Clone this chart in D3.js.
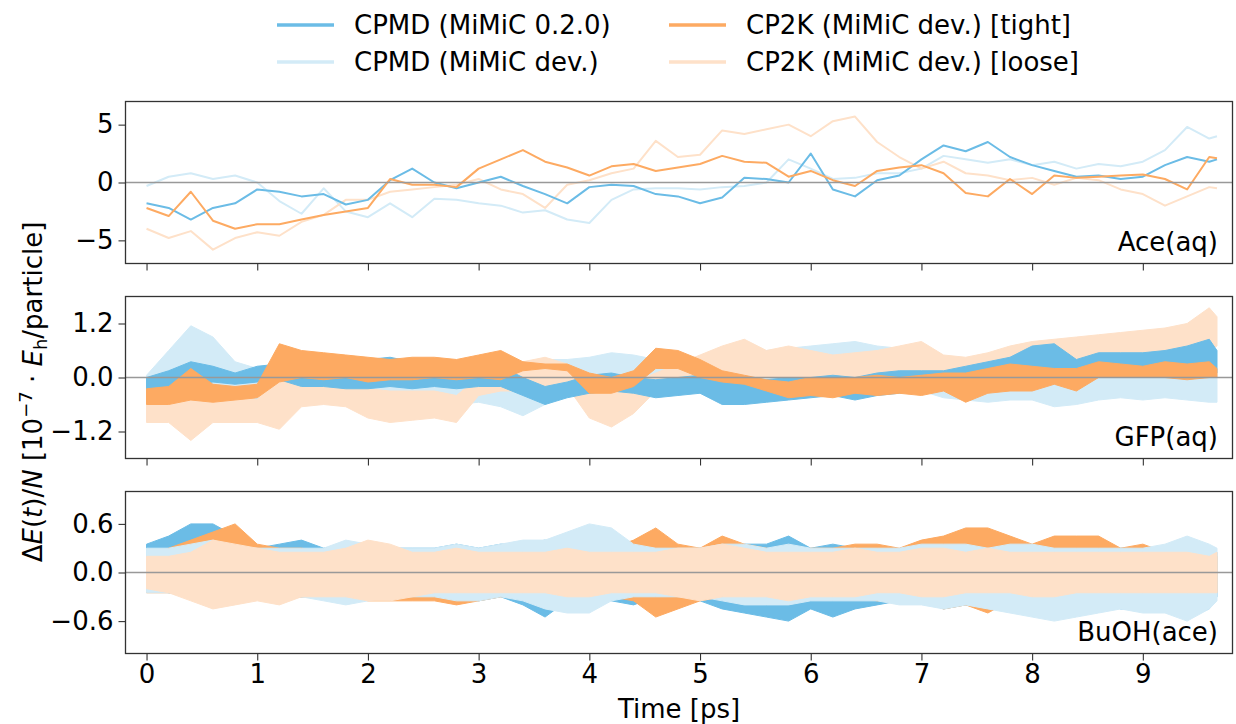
<!DOCTYPE html>
<html>
<head>
<meta charset="utf-8">
<script src="https://cdn.jsdelivr.net/npm/d3@7"></script>
<style>
  body { margin: 0; background: #fff; }
  svg { display: block; font-family: "DejaVu Sans", sans-serif; }
</style>
</head>
<body>
<svg></svg>
<script>
// time grid (ps) the values were read at
const times = [0,0.2,0.4,0.6,0.8,1.0,1.2,1.4,1.6,1.8,2.0,2.2,2.4,2.6,2.8,3.0,
  3.2,3.4,3.6,3.8,4.0,4.2,4.4,4.6,4.8,5.0,5.2,5.4,5.6,5.8,6.0,6.2,6.4,6.6,
  6.8,7.0,7.2,7.4,7.6,7.8,8.0,8.2,8.4,8.6,8.8,9.0,9.2,9.4,9.6,9.67]

const seriesNames = ['CPMD (MiMiC 0.2.0)', 'CPMD (MiMiC dev.)', 'CP2K (MiMiC dev.) [tight]', 'CP2K (MiMiC dev.) [loose]']
const panelNames = ['Ace(aq)', 'GFP(aq)', 'BuOH(ace)']
const xTicks = [0,1,2,3,4,5,6,7,8,9]
const yTicks = [[-5,0,5], [-1.2,0,1.2], [-0.6,0,0.6]]
const yTickLabels = [['\u22125','0','5'], ['\u22121.2','0.0','1.2'], ['\u22120.6','0.0','0.6']]
const yLimits = [[-7,7], [-1.8,1.8], [-1.0,1.0]]

// Ace(aq): single traces
const aceCpmd020 = [-1.8,-2.2,-3.2,-2.2,-1.8,-0.6,-0.8,-1.2,-1.0,-1.9,-1.5,0.2,1.2,0.0,-0.5,0.0,
  0.5,-0.3,-1.0,-1.8,-0.4,-0.2,-0.3,-1.0,-1.2,-1.8,-1.3,0.4,0.3,0.0,2.5,-0.6,-1.2,0.2,
  0.6,2.0,3.2,2.7,3.5,2.2,1.5,1.0,0.5,0.6,0.3,0.5,1.5,2.2,1.8,2.0]
const aceCpmdDev = [-0.3,0.5,0.8,0.3,0.6,0.0,-1.6,-2.7,-0.5,-2.5,-3.0,-1.8,-3.0,-1.4,-1.5,-1.8,
  -2.0,-2.6,-2.4,-3.2,-3.5,-1.5,-0.6,-0.5,-0.5,-0.6,-0.4,-0.3,0.0,2.0,1.2,0.3,0.4,0.8,
  0.8,1.2,2.3,2.0,1.7,2.0,1.5,1.8,1.2,1.6,1.4,1.8,2.8,4.8,3.8,4.0]
const aceCp2kTight = [-2.2,-2.9,-0.8,-3.3,-4.0,-3.6,-3.6,-3.2,-2.8,-2.5,-2.2,0.3,-0.2,-0.2,-0.4,1.2,
  2.0,2.8,1.8,1.3,0.6,1.4,1.6,1.0,1.3,1.6,2.3,1.8,1.7,0.5,1.0,0.2,-0.3,1.0,
  1.3,1.5,0.8,-0.9,-1.2,0.3,-1.0,0.6,0.4,0.5,0.6,0.7,0.3,-0.6,2.2,2.1]
const aceCp2kLoose = [-4.0,-4.8,-4.2,-5.8,-4.8,-4.3,-4.6,-3.4,-2.8,-1.5,-1.5,-0.8,-0.6,-0.4,-0.2,0.3,
  -0.6,-1.0,-2.2,-0.2,0.2,0.8,1.2,3.6,2.2,2.4,4.5,4.2,4.6,5.0,4.0,5.3,5.7,3.5,
  2.2,1.2,1.8,0.8,0.6,0.2,0.4,-0.2,0.4,0.2,-0.6,-1.0,-2.0,-1.2,-0.4,-0.5]

// GFP(aq): lower / upper envelope of the noisy traces
const gfpCpmd020Lo = [-0.35,-0.3,-0.2,-0.1,-0.15,-0.1,-0.05,-0.2,-0.2,-0.25,-0.25,-0.2,-0.25,-0.2,-0.25,-0.2,
  -0.2,-0.4,-0.6,-0.45,-0.35,-0.3,-0.35,-0.45,-0.4,-0.35,-0.6,-0.6,-0.55,-0.5,-0.45,-0.4,-0.5,-0.4,
  -0.35,-0.3,-0.2,-0.15,-0.1,0.0,0.05,0.1,0.0,0.15,0.2,0.2,0.15,0.2,0.05,0.1]
const gfpCpmd020Hi = [0.0,0.15,0.35,0.25,0.1,0.25,0.3,0.3,0.25,0.3,0.4,0.45,0.35,0.3,0.3,0.3,
  0.25,0.0,-0.2,-0.1,0.05,0.1,0.0,-0.05,0.0,0.05,0.05,0.0,-0.05,0.0,0.0,0.05,0.0,0.1,
  0.15,0.15,0.15,0.25,0.35,0.45,0.7,0.75,0.4,0.55,0.55,0.55,0.6,0.7,0.85,0.6]
const gfpCpmdDevLo = [-0.5,-0.55,-0.6,-0.6,-0.55,-0.6,-0.55,-0.5,-0.45,-0.55,-0.5,-0.45,-0.6,-0.55,-0.6,-0.55,
  -0.65,-0.85,-0.6,-0.4,-0.3,-0.25,-0.2,-0.2,-0.2,-0.2,-0.3,-0.35,-0.3,-0.3,-0.3,-0.3,-0.3,-0.3,
  -0.3,-0.3,-0.45,-0.5,-0.55,-0.5,-0.5,-0.65,-0.6,-0.5,-0.45,-0.5,-0.45,-0.5,-0.55,-0.55]
const gfpCpmdDevHi = [0.05,0.6,1.15,0.9,0.35,0.2,0.3,0.1,0.3,0.15,0.1,0.0,0.0,-0.05,-0.05,0.0,
  0.1,0.35,0.4,0.4,0.45,0.55,0.5,0.4,0.35,0.4,0.5,0.55,0.6,0.65,0.7,0.75,0.8,0.7,
  0.65,0.7,0.2,0.2,0.15,0.2,0.1,0.1,0.1,0.1,0.1,0.1,0.1,0.1,0.2,0.1]
const gfpCp2kTightLo = [-0.6,-0.6,-0.5,-0.55,-0.5,-0.45,-0.1,0.0,-0.05,0.0,-0.1,-0.05,-0.05,0.0,-0.05,0.0,
  -0.05,0.15,0.2,0.15,-0.35,-0.35,-0.2,0.2,0.2,0.0,-0.1,-0.15,-0.3,-0.45,-0.4,-0.45,-0.35,-0.4,
  -0.35,-0.4,-0.3,-0.55,-0.35,-0.3,-0.3,-0.15,-0.3,0.0,0.0,0.0,0.0,-0.05,0.0,0.0]
const gfpCp2kTightHi = [-0.25,-0.2,0.2,-0.15,-0.2,-0.15,0.75,0.6,0.55,0.5,0.45,0.4,0.45,0.45,0.4,0.5,
  0.6,0.35,0.3,0.3,0.1,0.0,0.15,0.65,0.6,0.4,0.15,0.05,-0.05,-0.1,0.0,0.0,0.0,0.05,
  0.0,0.05,0.1,0.1,0.2,0.3,0.25,0.2,0.2,0.35,0.3,0.25,0.35,0.3,0.35,0.2]
const gfpCp2kLooseLo = [-1.0,-1.0,-1.4,-1.0,-1.0,-1.0,-1.15,-0.65,-0.6,-0.65,-0.9,-1.0,-0.95,-0.9,-1.0,-0.4,
  -0.3,-0.3,-0.2,-0.2,-0.9,-1.1,-0.8,-0.3,-0.2,-0.1,0.0,0.05,0.0,0.0,0.0,-0.05,0.0,0.0,
  0.0,0.05,0.0,0.0,0.05,0.1,0.15,0.2,0.2,0.3,0.3,0.35,0.4,0.5,0.6,0.7]
const gfpCp2kLooseHi = [-0.2,-0.3,-0.4,-0.4,-0.4,-0.5,0.2,0.25,0.3,0.2,-0.25,-0.3,-0.3,-0.3,-0.4,0.0,
  0.1,0.35,0.45,0.3,-0.2,-0.2,-0.1,0.1,0.3,0.5,0.7,0.85,0.6,0.7,0.6,0.5,0.55,0.6,
  0.7,0.8,0.5,0.45,0.55,0.7,0.8,0.85,0.9,0.95,1.0,1.05,1.1,1.2,1.55,1.35]

// BuOH(ace): lower / upper envelope
const buohCpmd020Lo = [-0.2,-0.25,-0.3,-0.3,-0.3,-0.3,-0.35,-0.3,-0.3,-0.3,-0.3,-0.3,-0.3,-0.3,-0.3,-0.35,
  -0.3,-0.4,-0.55,-0.35,-0.3,-0.35,-0.4,-0.3,-0.35,-0.35,-0.45,-0.5,-0.55,-0.6,-0.45,-0.55,-0.45,-0.4,
  -0.35,-0.35,-0.45,-0.4,-0.45,-0.4,-0.45,-0.45,-0.5,-0.35,-0.45,-0.45,-0.4,-0.55,-0.45,-0.3]
const buohCpmd020Hi = [0.35,0.45,0.6,0.6,0.45,0.3,0.35,0.4,0.3,0.35,0.3,0.3,0.3,0.3,0.35,0.3,
  0.35,0.35,0.4,0.3,0.3,0.3,0.35,0.3,0.3,0.3,0.3,0.35,0.35,0.45,0.3,0.35,0.3,0.25,
  0.25,0.3,0.3,0.3,0.3,0.3,0.3,0.3,0.3,0.25,0.3,0.3,0.3,0.4,0.3,0.25]
const buohCpmdDevLo = [-0.25,-0.25,-0.3,-0.3,-0.3,-0.3,-0.3,-0.3,-0.35,-0.4,-0.35,-0.3,-0.3,-0.3,-0.35,-0.35,
  -0.3,-0.35,-0.45,-0.5,-0.5,-0.35,-0.3,-0.3,-0.3,-0.3,-0.35,-0.4,-0.4,-0.4,-0.35,-0.35,-0.35,-0.35,
  -0.4,-0.4,-0.45,-0.4,-0.45,-0.5,-0.55,-0.6,-0.55,-0.5,-0.45,-0.5,-0.5,-0.6,-0.45,-0.35]
const buohCpmdDevHi = [0.3,0.3,0.35,0.4,0.3,0.3,0.3,0.3,0.3,0.4,0.35,0.3,0.3,0.3,0.35,0.3,
  0.35,0.4,0.4,0.5,0.6,0.55,0.35,0.3,0.3,0.3,0.35,0.35,0.3,0.35,0.3,0.3,0.3,0.3,
  0.3,0.35,0.35,0.35,0.3,0.35,0.35,0.3,0.3,0.3,0.3,0.3,0.35,0.45,0.35,0.3]
const buohCp2kTightLo = [-0.25,-0.25,-0.3,-0.35,-0.35,-0.3,-0.3,-0.3,-0.3,-0.3,-0.35,-0.35,-0.35,-0.35,-0.4,-0.35,
  -0.3,-0.3,-0.35,-0.3,-0.35,-0.3,-0.35,-0.55,-0.45,-0.35,-0.3,-0.35,-0.3,-0.35,-0.3,-0.3,-0.3,-0.35,
  -0.35,-0.35,-0.45,-0.4,-0.5,-0.35,-0.35,-0.3,-0.3,-0.3,-0.35,-0.3,-0.3,-0.3,-0.3,-0.25]
const buohCp2kTightHi = [0.2,0.3,0.4,0.5,0.6,0.35,0.3,0.3,0.25,0.25,0.25,0.25,0.25,0.25,0.25,0.25,
  0.25,0.25,0.3,0.3,0.25,0.3,0.4,0.55,0.35,0.3,0.45,0.35,0.3,0.25,0.3,0.3,0.35,0.35,
  0.3,0.4,0.45,0.55,0.55,0.45,0.35,0.45,0.45,0.45,0.3,0.35,0.25,0.2,0.25,0.2]
const buohCp2kLooseLo = [-0.2,-0.25,-0.35,-0.45,-0.4,-0.35,-0.4,-0.3,-0.3,-0.3,-0.35,-0.35,-0.3,-0.25,-0.25,-0.25,
  -0.25,-0.25,-0.25,-0.3,-0.3,-0.25,-0.25,-0.25,-0.3,-0.35,-0.3,-0.3,-0.3,-0.35,-0.3,-0.3,-0.3,-0.25,
  -0.25,-0.3,-0.3,-0.25,-0.25,-0.25,-0.3,-0.3,-0.25,-0.25,-0.25,-0.25,-0.25,-0.25,-0.25,-0.25]
const buohCp2kLooseHi = [0.2,0.2,0.25,0.4,0.35,0.3,0.25,0.25,0.25,0.3,0.4,0.35,0.25,0.25,0.3,0.25,
  0.25,0.25,0.25,0.3,0.25,0.25,0.25,0.25,0.3,0.3,0.35,0.3,0.25,0.25,0.25,0.25,0.3,0.25,
  0.25,0.3,0.3,0.25,0.3,0.25,0.25,0.25,0.25,0.25,0.25,0.25,0.25,0.25,0.2,0.25]

const colors = ['#6bbce6', '#d3ebf7', '#fdaa62', '#fee1c9']

const width = 1236, height = 724
const svg = d3.select('svg').attr('width', width).attr('height', height)

const left = 125.5, right = 1232.5
const panelTops = [101.5, 296.5, 491.5]
const panelH = 162

const xScale = d3.scaleLinear().domain([-0.19, 9.81]).range([left, right])

// [series index, values] in drawing order
const panels = [
  { lines: [[1, aceCpmdDev], [3, aceCp2kLoose], [0, aceCpmd020], [2, aceCp2kTight]] },
  { bands: [[1, gfpCpmdDevLo, gfpCpmdDevHi], [3, gfpCp2kLooseLo, gfpCp2kLooseHi],
            [0, gfpCpmd020Lo, gfpCpmd020Hi], [2, gfpCp2kTightLo, gfpCp2kTightHi]] },
  { bands: [[0, buohCpmd020Lo, buohCpmd020Hi], [2, buohCp2kTightLo, buohCp2kTightHi],
            [1, buohCpmdDevLo, buohCpmdDevHi], [3, buohCp2kLooseLo, buohCp2kLooseHi]] }
]

panels.forEach((p, i) => {
  const top = panelTops[i]
  const yScale = d3.scaleLinear().domain(yLimits[i]).range([top + panelH, top])
  const g = svg.append('g')

  svg.append('clipPath').attr('id', 'clip' + i)
    .append('rect').attr('x', left).attr('y', top).attr('width', right - left).attr('height', panelH)
  const plot = g.append('g').attr('clip-path', `url(#clip${i})`)

  if (p.lines) {
    const line = d3.line().x((d, k) => xScale(times[k])).y(d => yScale(d))
    p.lines.forEach(([s, vals]) => {
      plot.append('path').datum(vals)
        .attr('d', line)
        .attr('fill', 'none')
        .attr('stroke', colors[s])
        .attr('stroke-width', 2)
        .attr('stroke-linejoin', 'round')
    })
  }
  if (p.bands) {
    p.bands.forEach(([s, lo, hi]) => {
      const rows = times.map((t, k) => ({ t: t, lo: lo[k], hi: hi[k] }))
      const area = d3.area().x(d => xScale(d.t)).y0(d => yScale(d.lo)).y1(d => yScale(d.hi))
      plot.append('path').datum(rows)
        .attr('d', area)
        .attr('fill', colors[s])
        .attr('stroke', colors[s])
        .attr('stroke-width', 1)
    })
  }

  // zero line
  plot.append('line')
    .attr('x1', left).attr('x2', right)
    .attr('y1', yScale(0)).attr('y2', yScale(0))
    .attr('stroke', '#999').attr('stroke-width', 1.5)

  // y axis
  const yAxis = d3.axisLeft(yScale).tickValues(yTicks[i]).tickSize(7).tickPadding(5)
    .tickFormat((d, k) => yTickLabels[i][k])
  const yAxisG = g.append('g').attr('transform', `translate(${left},0)`).call(yAxis)
  yAxisG.select('.domain').remove()
  yAxisG.selectAll('line').attr('stroke', '#333').attr('stroke-width', 1.1)
  yAxisG.selectAll('text').attr('font-size', 26).attr('fill', '#000').attr('font-family', 'DejaVu Sans')

  // x axis
  const xAxis = d3.axisBottom(xScale).tickValues(xTicks).tickSize(7).tickPadding(4)
    .tickFormat(i === 2 ? d3.format('d') : '')
  const xAxisG = g.append('g').attr('transform', `translate(0,${top + panelH})`).call(xAxis)
  xAxisG.select('.domain').remove()
  xAxisG.selectAll('line').attr('stroke', '#333').attr('stroke-width', 1.1)
  xAxisG.selectAll('text').attr('font-size', 26).attr('fill', '#000').attr('font-family', 'DejaVu Sans')

  // frame
  g.append('rect')
    .attr('x', left).attr('y', top).attr('width', right - left).attr('height', panelH)
    .attr('fill', 'none').attr('stroke', '#333').attr('stroke-width', 1.3)

  g.append('text')
    .attr('x', 1218).attr('y', top + panelH - 13)
    .attr('text-anchor', 'end').attr('font-size', 26)
    .text(panelNames[i])
})

// x label
svg.append('text')
  .attr('x', (left + right) / 2).attr('y', 718)
  .attr('text-anchor', 'middle').attr('font-size', 26)
  .text('Time [ps]')

// y label
const yl = svg.append('text')
  .attr('transform', 'translate(42,392) rotate(-90)')
  .attr('text-anchor', 'middle').attr('font-size', 26)
yl.append('tspan').text('\u0394')
yl.append('tspan').attr('font-style', 'italic').text('E')
yl.append('tspan').text('(')
yl.append('tspan').attr('font-style', 'italic').text('t')
yl.append('tspan').text(')/')
yl.append('tspan').attr('font-style', 'italic').text('N')
yl.append('tspan').text(' [10')
yl.append('tspan').attr('font-size', 18).attr('dy', -10).text('\u22127')
yl.append('tspan').attr('dy', 10).text(' \u00b7 ')
yl.append('tspan').attr('font-style', 'italic').text('E')
yl.append('tspan').attr('font-size', 18).attr('dy', 5).text('h')
yl.append('tspan').attr('dy', -5).text('/particle]')

// legend
const legendPos = [[277, 25], [277, 62], [669, 25], [669, 62]]
const legend = svg.append('g')
seriesNames.forEach((name, s) => {
  const [lx, ly] = legendPos[s]
  legend.append('line')
    .attr('x1', lx).attr('x2', lx + 57).attr('y1', ly).attr('y2', ly)
    .attr('stroke', colors[s]).attr('stroke-width', 3.5)
  legend.append('text')
    .attr('x', lx + 77).attr('y', ly + 9)
    .attr('font-size', 26)
    .text(name)
})
</script>
</body>
</html>
